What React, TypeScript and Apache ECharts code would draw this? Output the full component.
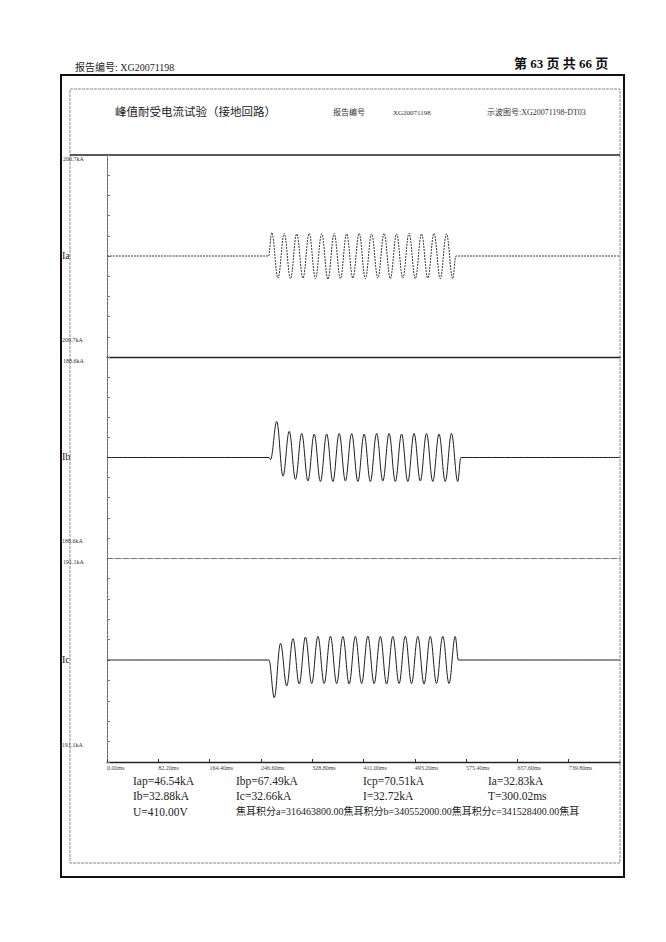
import React, { useEffect, useRef } from "react";
import * as echarts from "echarts";

// ---------- text content ----------
const reportLabel = "报告编号: XG20071198";
const pageText = "第 63 页 共 66 页";
const titleText = "峰值耐受电流试验（接地回路）";
const reportNoLabel = "报告编号";
const reportNo = "XG20071198";
const scopeNo = "示波图号:XG20071198-DT03";

const channelNames = ["Ia", "Ib", "Ic"];
const channelMaxKA = [200.7, 188.6, 191.1];

const xTickMs = 82.2;
const xMaxMs = 822;

const resultRow1 = ["Iap=46.54kA", "Ibp=67.49kA", "Icp=70.51kA", "Ia=32.83kA"];
const resultRow2 = ["Ib=32.88kA", "Ic=32.66kA", "I=32.72kA", "T=300.02ms"];
const resultRow3 = [
  "U=410.00V",
  "焦耳积分a=316463800.00焦耳积分b=340552000.00焦耳积分c=341528400.00焦耳",
];

// ---------- waveform peaks (ms, kA) ----------
const iaTimes = [
  0, 259, 264, 274, 284, 294, 304, 314, 324, 334, 344, 354, 364, 374, 384, 394,
  404, 414, 424, 434, 444, 454, 464, 474, 484, 494, 504, 514, 524, 534, 544, 554,
  559, 822,
];
const iaValues = [
  0, 0, 46.5, -44, 45, -45, 44, -44, 45, -45, 44, -46, 45, -45, 44, -44, 45, -45,
  44, -44, 45, -45, 44, -44, 45, -45, 44, -44, 45, -45, 44, -45, 0, 0,
];

const ibTimes = [
  0, 259.5, 262, 272, 282, 292, 302, 312, 322, 332, 342, 352, 362, 372, 382, 392,
  402, 412, 422, 432, 442, 452, 462, 472, 482, 492, 502, 512, 522, 532, 542, 552,
  562, 567, 822,
];
const ibValues = [
  0, 0, -4, 67.5, -35, 49, -41, 45, -44, 44, -45, 44, -45, 45, -44, 45, -45, 44,
  -45, 45, -44, 45, -45, 44, -45, 45, -44, 45, -45, 44, -45, 45, -45, 0, 0,
];

const icTimes = [
  0, 259.5, 268, 278, 288, 298, 308, 318, 328, 338, 348, 358, 368, 378, 388, 398,
  408, 418, 428, 438, 448, 458, 468, 478, 488, 498, 508, 518, 528, 538, 548, 558,
  563, 822,
];
const icValues = [
  0, 0, -70.5, 31, -48.5, 40, -45, 43, -44, 44, -44, 44.5, -44, 44, -45, 44, -44,
  44.5, -44, 44, -45, 44, -44, 44.5, -44, 44, -45, 44, -44, 44.5, -44, 44, 0, 0,
];

const SERIF = '"Liberation Serif", "DejaVu Serif", "Noto Sans CJK SC", serif';

export default function App() {
  const ref = useRef<HTMLDivElement>(null);

  useEffect(() => {
    document.body.style.margin = "0";
    const chart = echarts.init(ref.current!, undefined, { renderer: "svg" });

    const left = 107;
    const right = 620;
    const tops = [155, 357, 558];
    const bottoms = [357, 558, 762];
    const channels = [
      { t: iaTimes, v: iaValues, dash: [2, 1] as number[], color: "#3a3a3a" },
      { t: ibTimes, v: ibValues, dash: undefined, color: "#1e1e1e" },
      { t: icTimes, v: icValues, dash: undefined, color: "#1e1e1e" },
    ];
    const sectionLineStyles = [
      { color: "#222", width: 1.4, type: "solid" as const },
      { color: "#777", width: 1, type: [6, 2] as number[] },
      { color: "#222", width: 1.4, type: "solid" as const },
    ];

    const graphics: any[] = [
      // page header
      {
        type: "text", left: 75, top: 62,
        style: { text: reportLabel, fontSize: 10, fontFamily: SERIF, fill: "#222" },
      },
      {
        type: "text", left: 514, top: 57,
        style: { text: pageText, fontSize: 13, fontWeight: "bold", fontFamily: SERIF, fill: "#111" },
      },
      // outer frame
      {
        type: "rect", shape: { x: 61, y: 75, width: 563, height: 802 },
        style: { fill: "none", stroke: "#111", lineWidth: 2 },
      },
      // inner frame
      {
        type: "rect", shape: { x: 70, y: 89, width: 550, height: 774 },
        style: { fill: "none", stroke: "#888", lineWidth: 1, lineDash: [3, 1] },
      },
      // title row
      {
        type: "text", left: 115, top: 106,
        style: { text: titleText, fontSize: 11.5, fontFamily: SERIF, fill: "#222" },
      },
      {
        type: "text", left: 333, top: 108,
        style: { text: reportNoLabel, fontSize: 8, fontFamily: SERIF, fill: "#333" },
      },
      {
        type: "text", left: 393, top: 109,
        style: { text: reportNo, fontSize: 7, fontFamily: SERIF, fill: "#333" },
      },
      {
        type: "text", left: 487, top: 108,
        style: { text: scopeNo, fontSize: 8, fontFamily: SERIF, fill: "#333" },
      },
      // top line of the plot
      {
        type: "line", shape: { x1: 70, y1: tops[0], x2: right, y2: tops[0] },
        style: { stroke: "#222", lineWidth: 1.4 },
      },
    ];

    channelNames.forEach((name, i) => {
      const m = channelMaxKA[i];
      graphics.push({
        type: "text", left: 62, top: (tops[i] + bottoms[i]) / 2 - 6,
        style: { text: name, fontSize: 10, fontFamily: SERIF, fill: "#222" },
      });
      graphics.push({
        type: "text", left: 63, top: tops[i] + 1,
        style: { text: `${m.toFixed(1)}kA`, fontSize: 6, fontFamily: SERIF, fill: "#333" },
      });
      graphics.push({
        type: "text", left: 60, top: bottoms[i] - 20,
        style: { text: `-${m.toFixed(1)}kA`, fontSize: 6, fontFamily: SERIF, fill: "#333" },
      });
    });

    const rowX = [133, 236, 363, 488];
    [resultRow1, resultRow2].forEach((row, r) => {
      row.forEach((txt, c) => {
        graphics.push({
          type: "text", left: rowX[c], top: 775 + r * 15,
          style: { text: txt, fontSize: 11.5, fontFamily: SERIF, fill: "#222" },
        });
      });
    });
    resultRow3.forEach((txt, c) => {
      graphics.push({
        type: "text", left: rowX[c], top: 806,
        style: { text: txt, fontSize: c === 0 ? 11.5 : 10, fontFamily: SERIF, fill: "#222" },
      });
    });

    chart.setOption({
      animation: false,
      backgroundColor: "#fff",
      grid: channelNames.map((_, i) => ({
        left,
        width: right - left,
        top: tops[i],
        height: bottoms[i] - tops[i],
      })),
      xAxis: channelNames.map((_, i) => ({
        type: "value",
        gridIndex: i,
        min: 0,
        max: xMaxMs,
        interval: xTickMs,
        axisLine: { show: true, onZero: false, lineStyle: sectionLineStyles[i] },
        axisTick: {
          show: i === 2,
          inside: true,
          length: 3,
          lineStyle: { color: "#333" },
        },
        axisLabel: {
          show: i === 2,
          showMaxLabel: false,
          align: "left",
          margin: 3,
          fontSize: 6,
          fontFamily: SERIF,
          color: "#444",
          formatter: (v: number) => `${v.toFixed(2)}ms`,
        },
        splitLine: { show: false },
      })),
      yAxis: channelNames.map((_, i) => ({
        type: "value",
        gridIndex: i,
        min: -channelMaxKA[i],
        max: channelMaxKA[i],
        interval: channelMaxKA[i] / 5,
        axisLine: { show: true, onZero: false, lineStyle: { color: "#666", width: 1, type: [3, 1] } },
        axisTick: { show: true, inside: true, length: 3, lineStyle: { color: "#777" } },
        axisLabel: { show: false },
        splitLine: { show: false },
      })),
      series: channels.map((ch, i) => ({
        type: "line",
        name: channelNames[i],
        xAxisIndex: i,
        yAxisIndex: i,
        data: ch.t.map((t, k) => [t, ch.v[k]]),
        smooth: 0.38,
        smoothMonotone: "x",
        symbol: "none",
        lineStyle: { color: ch.color, width: 1, type: ch.dash ?? "solid" },
      })),
      graphic: graphics,
    });

    return () => chart.dispose();
  }, []);

  return <div ref={ref} style={{ width: 666, height: 942 }} />;
}
